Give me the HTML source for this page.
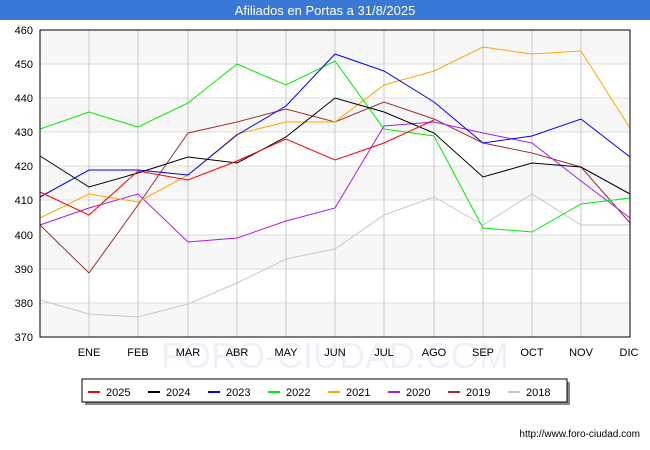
<!DOCTYPE html>
<html><head><style>body{margin:0;background:#fff}svg{display:block;font-family:"Liberation Sans",sans-serif}</style></head><body>
<svg width="650" height="450" xmlns="http://www.w3.org/2000/svg">
<rect x="0" y="0" width="650" height="20" fill="#3a78d6"/>
<text x="325" y="15" fill="#fff" font-size="13" text-anchor="middle">Afiliados en Portas a 31/8/2025</text>
<g fill="#f7f7f7">
<rect x="40" y="30" width="590" height="34"/><rect x="40" y="98" width="590" height="34"/><rect x="40" y="166" width="590" height="34"/><rect x="40" y="235" width="590" height="34"/><rect x="40" y="303" width="590" height="34"/>
</g>
<g stroke="#ddd" stroke-width="1">
<line x1="40" x2="630" y1="64" y2="64"/><line x1="40" x2="630" y1="98" y2="98"/><line x1="40" x2="630" y1="132" y2="132"/><line x1="40" x2="630" y1="166" y2="166"/><line x1="40" x2="630" y1="200" y2="200"/><line x1="40" x2="630" y1="235" y2="235"/><line x1="40" x2="630" y1="269" y2="269"/><line x1="40" x2="630" y1="303" y2="303"/>
</g>
<g stroke="#c8c8c8" stroke-width="1">
<line x1="89" x2="89" y1="30" y2="337"/><line x1="138" x2="138" y1="30" y2="337"/><line x1="188" x2="188" y1="30" y2="337"/><line x1="237" x2="237" y1="30" y2="337"/><line x1="286" x2="286" y1="30" y2="337"/><line x1="335" x2="335" y1="30" y2="337"/><line x1="384" x2="384" y1="30" y2="337"/><line x1="434" x2="434" y1="30" y2="337"/><line x1="483" x2="483" y1="30" y2="337"/><line x1="532" x2="532" y1="30" y2="337"/><line x1="581" x2="581" y1="30" y2="337"/>
</g>
<text x="335" y="368" font-size="36" fill="#eef0fa" text-anchor="middle">FORO-CIUDAD.COM</text>
<g fill="none" stroke-width="1">
<polyline stroke="#c8c8c8" points="40,300 89,314 138,317 188,304 237,283 286,259 335,249 384,215 434,197 483,225 532,194 581,225 630,225"/>
<polyline stroke="#a03030" points="40,225 89,273 138,205 188,133 237,122 286,109 335,122 384,102 434,119 483,143 532,153 581,167 630,223"/>
<polyline stroke="#a020f0" points="40,225 89,208 138,194 188,242 237,238 286,221 335,208 384,126 434,122 483,133 532,143 581,181 630,218"/>
<polyline stroke="#ffa500" points="40,218 89,194 138,202 188,175 237,134 286,122 335,122 384,85 434,71 483,47 532,54 581,51 630,128"/>
<polyline stroke="#00ee00" points="40,129 89,112 138,127 188,103 237,64 286,85 335,61 384,129 434,136 483,228 532,232 581,204 630,198"/>
<polyline stroke="#0000ff" points="40,197 89,170 138,170 188,175 237,135 286,106 335,54 384,71 434,102 483,143 532,136 581,119 630,157"/>
<polyline stroke="#000" points="40,156 89,187 138,173 188,157 237,163 286,137 335,98 384,112 434,133 483,177 532,163 581,167 630,194"/>
<polyline stroke="#ff0000" points="40,192 89,215 138,171 188,180 237,161 286,139 335,160 384,143 434,120"/>
</g>
<rect x="40" y="30" width="590" height="307" fill="none" stroke="#000"/>
<g font-size="11" fill="#000" text-anchor="end">
<text x="33" y="34">460</text><text x="33" y="68">450</text><text x="33" y="102">440</text><text x="33" y="136">430</text><text x="33" y="170">420</text><text x="33" y="204">410</text><text x="33" y="239">400</text><text x="33" y="273">390</text><text x="33" y="307">380</text><text x="33" y="341">370</text>
</g>
<g font-size="11" fill="#000" text-anchor="middle">
<text x="89" y="356">ENE</text><text x="138" y="356">FEB</text><text x="188" y="356">MAR</text><text x="237" y="356">ABR</text><text x="286" y="356">MAY</text><text x="335" y="356">JUN</text><text x="384" y="356">JUL</text><text x="434" y="356">AGO</text><text x="483" y="356">SEP</text><text x="532" y="356">OCT</text><text x="581" y="356">NOV</text><text x="629" y="356">DIC</text>
</g>
<rect x="85" y="382" width="485" height="23" fill="#888"/>
<rect x="82" y="379" width="485" height="23" fill="#fff" stroke="#000"/>
<g font-size="11" fill="#000">
<line x1="88" x2="100" y1="392" y2="392" stroke="#f00" stroke-width="2"/><text x="106" y="396">2025</text>
<line x1="148" x2="160" y1="392" y2="392" stroke="#000" stroke-width="2"/><text x="166" y="396">2024</text>
<line x1="208" x2="220" y1="392" y2="392" stroke="#00f" stroke-width="2"/><text x="226" y="396">2023</text>
<line x1="268" x2="280" y1="392" y2="392" stroke="#0e0" stroke-width="2"/><text x="286" y="396">2022</text>
<line x1="328" x2="340" y1="392" y2="392" stroke="#ffa500" stroke-width="2"/><text x="346" y="396">2021</text>
<line x1="388" x2="400" y1="392" y2="392" stroke="#a020f0" stroke-width="2"/><text x="406" y="396">2020</text>
<line x1="448" x2="460" y1="392" y2="392" stroke="#a03030" stroke-width="2"/><text x="466" y="396">2019</text>
<line x1="508" x2="520" y1="392" y2="392" stroke="#c8c8c8" stroke-width="2"/><text x="526" y="396">2018</text>
</g>
<text x="640" y="437" font-size="10" fill="#000" text-anchor="end">http://www.foro-ciudad.com</text>
</svg>
</body></html>
